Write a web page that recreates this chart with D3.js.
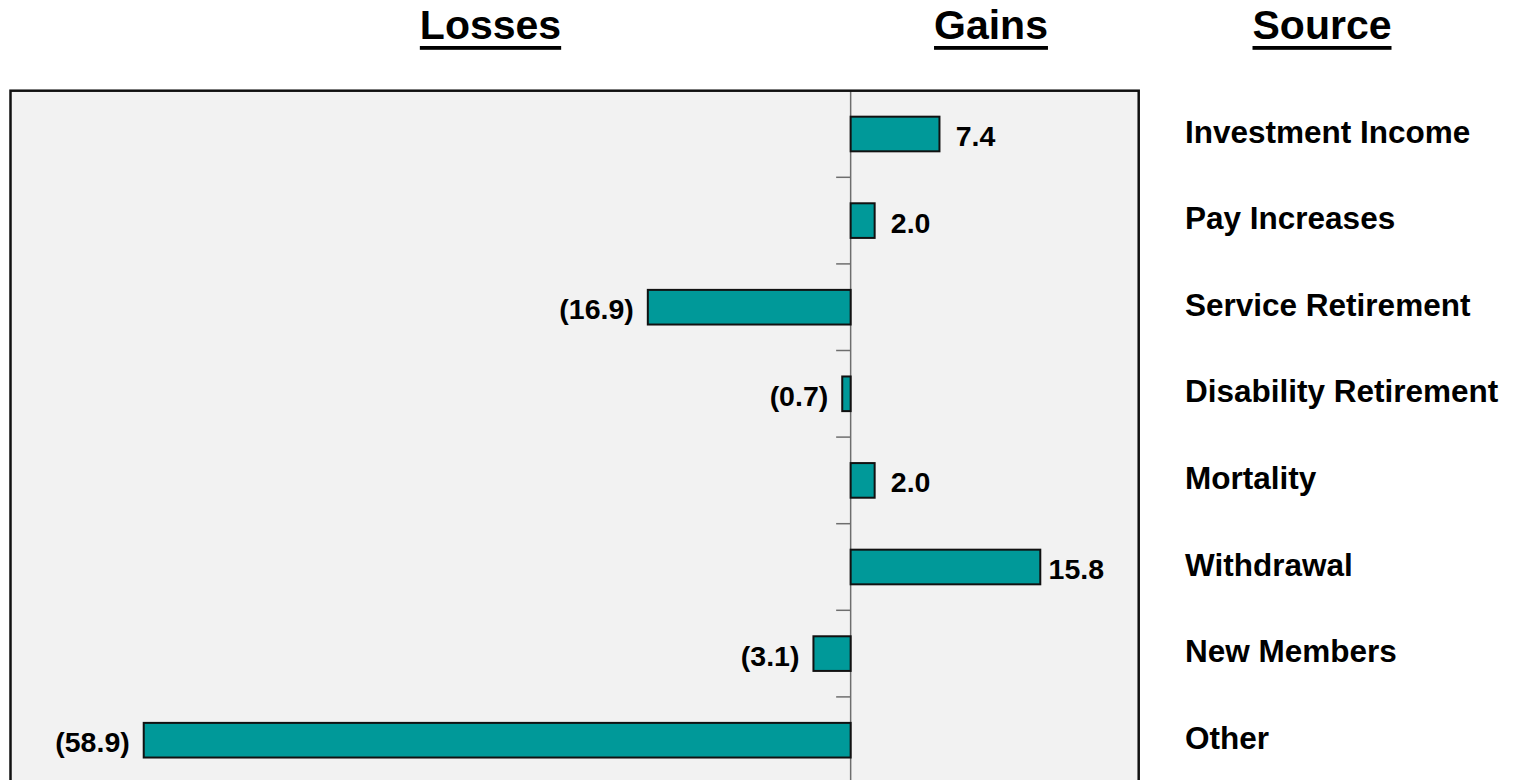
<!DOCTYPE html>
<html>
<head>
<meta charset="utf-8">
<script src="https://cdn.jsdelivr.net/npm/d3@7"></script>
<style>
  html, body { margin: 0; padding: 0; background: #ffffff; }
  svg { display: block; }
  text { font-family: "Liberation Sans", Arial, Helvetica, sans-serif; font-weight: bold; fill: #000; }
</style>
</head>
<body>
<svg id="chart" width="1521" height="780"></svg>
<script>
// Actuarial gains and losses by source (in millions)
const sources = [
  "Investment Income",
  "Pay Increases",
  "Service Retirement",
  "Disability Retirement",
  "Mortality",
  "Withdrawal",
  "New Members",
  "Other"
];
const amounts = [7.4, 2.0, -16.9, -0.7, 2.0, 15.8, -3.1, -58.9];
const headings = ["Losses", "Gains", "Source"];

const data = sources.map((s, i) => ({ source: s, value: amounts[i] }));

const svg = d3.select("#chart");

const plot = { left: 10.5, right: 1138.7, top: 90.7, bottom: 783.5 };

const x = d3.scaleLinear()
  .domain([-70, 24])
  .range([plot.left, plot.right]);

const y = d3.scaleBand()
  .domain(sources)
  .range([plot.top, plot.bottom])
  .paddingInner(0.6)
  .paddingOuter(0.3);

const step = y.step();
const x0 = x(0);

// Plot background
svg.append("rect")
  .attr("x", plot.left)
  .attr("y", plot.top)
  .attr("width", plot.right - plot.left)
  .attr("height", plot.bottom - plot.top + 10)
  .attr("fill", "#f2f2f2");

// Zero axis line with ticks between categories
svg.append("line")
  .attr("x1", x0).attr("x2", x0)
  .attr("y1", plot.top).attr("y2", plot.bottom + 10)
  .attr("stroke", "#6e6e6e")
  .attr("stroke-width", 1.5);

svg.append("g")
  .selectAll("line")
  .data(sources.slice(1))
  .join("line")
  .attr("x1", x0 - 14.5)
  .attr("x2", x0)
  .attr("y1", d => y(d) - (step - y.bandwidth()) / 2)
  .attr("y2", d => y(d) - (step - y.bandwidth()) / 2)
  .attr("stroke", "#6e6e6e")
  .attr("stroke-width", 1.5);

// Bars
svg.append("g")
  .selectAll("rect")
  .data(data)
  .join("rect")
  .attr("x", d => x(Math.min(0, d.value)))
  .attr("y", d => y(d.source))
  .attr("width", d => Math.abs(x(d.value) - x0))
  .attr("height", y.bandwidth())
  .attr("fill", "#009999")
  .attr("stroke", "#111")
  .attr("stroke-width", 2);

// Value labels: gains after the bar, losses in parentheses before it
const fmt = d3.format(".1f");
svg.append("g")
  .selectAll("text")
  .data(data)
  .join("text")
  .attr("x", d => d.value >= 0 ? x(d.value) + 36 : x(d.value) - 14)
  .attr("y", d => y(d.source) + y.bandwidth() / 2 + 12)
  .attr("text-anchor", d => d.value >= 0 ? "middle" : "end")
  .style("font-size", "28.5px")
  .text(d => d.value >= 0 ? fmt(d.value) : "(" + fmt(-d.value) + ")");

// Plot frame
svg.append("rect")
  .attr("x", plot.left)
  .attr("y", plot.top)
  .attr("width", plot.right - plot.left)
  .attr("height", plot.bottom - plot.top + 10)
  .attr("fill", "none")
  .attr("stroke", "#111")
  .attr("stroke-width", 2.5);

// Source names to the right of the plot
svg.append("g")
  .selectAll("text")
  .data(sources)
  .join("text")
  .attr("x", 1185)
  .attr("y", d => y(d) + y.bandwidth() / 2 + 8.5)
  .attr("text-anchor", "start")
  .style("font-size", "31.5px")
  .text(d => d);

// Underlined column headings
const headingX = [490.5, 991, 1322];
const heads = svg.append("g")
  .selectAll("g")
  .data(headings)
  .join("g");

heads.append("text")
  .attr("x", (d, i) => headingX[i])
  .attr("y", 38.5)
  .attr("text-anchor", "middle")
  .style("font-size", "41px")
  .text(d => d);

heads.each(function(d, i) {
  const t = d3.select(this).select("text").node();
  const w = t.getComputedTextLength();
  d3.select(this).append("rect")
    .attr("x", headingX[i] - w / 2)
    .attr("y", 46)
    .attr("width", w)
    .attr("height", 3.8)
    .attr("fill", "#000");
});
</script>
</body>
</html>
